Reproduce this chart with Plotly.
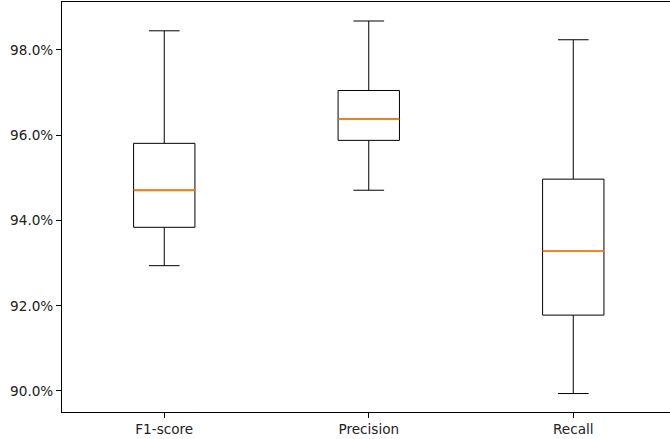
import plotly.graph_objects as go

categories = ["F1-score", "Precision", "Recall"]
positions = [1, 2, 3]
lower_whisker = [92.94, 94.71, 89.94]
q1 = [93.84, 95.88, 91.78]
median = [94.71, 96.38, 93.28]
q3 = [95.81, 97.05, 94.97]
upper_whisker = [98.45, 98.68, 98.24]
tick_vals = [90, 92, 94, 96, 98]
tick_text = ["90.0%", "92.0%", "94.0%", "96.0%", "98.0%"]

box_w = 0.3
fig = go.Figure()
for i, c in enumerate(categories):
    fig.add_trace(go.Box(
        x=[positions[i]], q1=[q1[i]], median=[median[i]], q3=[q3[i]],
        lowerfence=[lower_whisker[i]], upperfence=[upper_whisker[i]],
        width=box_w, whiskerwidth=0.5, fillcolor="rgba(0,0,0,0)",
        line=dict(color="black", width=1), name=c, showlegend=False,
        hoverinfo="skip", boxpoints=False,
    ))
    fig.add_trace(go.Scatter(
        x=[positions[i] - box_w / 2, positions[i] + box_w / 2],
        y=[median[i], median[i]], mode="lines",
        line=dict(color="#ff7f0e", width=1.8), showlegend=False, hoverinfo="skip",
    ))

fig.update_layout(
    width=670, height=439,
    margin=dict(l=62, r=0, t=2, b=27),
    plot_bgcolor="white", paper_bgcolor="white",
    font=dict(family="DejaVu Sans", size=13.6, color="#222222"),
)
fig.update_xaxes(
    range=[0.5, 3.473], tickvals=positions, ticktext=categories,
    showgrid=False, zeroline=False, showline=True, linecolor="black",
    linewidth=1, mirror=True, ticks="outside", ticklen=5, tickcolor="black",
)
fig.update_yaxes(
    range=[89.507, 99.126], tickvals=tick_vals, ticktext=tick_text,
    showgrid=False, zeroline=False, showline=True, linecolor="black",
    linewidth=1, mirror=False, ticks="outside", ticklen=5, tickcolor="black",
)
fig.write_html("out.html", config={"displayModeBar": False},
               post_script="document.body.style.margin='0';")
